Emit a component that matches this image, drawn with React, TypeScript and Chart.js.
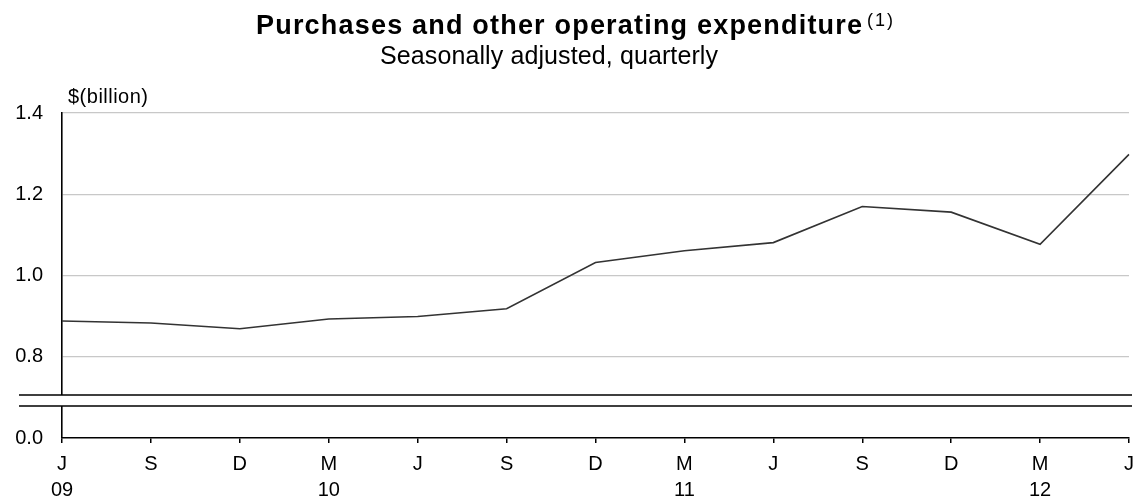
import React, { useEffect, useRef } from "react";
import { Chart, registerables } from "chart.js";

Chart.register(...registerables);

// ---- Data ----
const monthLabels = ["J", "S", "D", "M", "J", "S", "D", "M", "J", "S", "D", "M", "J"];
const yearLabels = ["09", "", "", "10", "", "", "", "11", "", "", "", "12", ""];
const purchases = [0.888, 0.883, 0.869, 0.893, 0.899, 0.918, 1.032, 1.061, 1.081, 1.17, 1.156, 1.077, 1.298];
const yTickValues = [0.6, 0.8, 1.0, 1.2, 1.4];
const yTickLabels = ["0.0", "0.8", "1.0", "1.2", "1.4"];
const axisMin = 0.6;
const axisMax = 1.4;
const breakValues = [0.706, 0.679];

const TITLE = "Purchases and other operating expenditure";
const TITLE_NOTE = "(1)";
const SUBTITLE = "Seasonally adjusted, quarterly";
const UNIT = "$(billion)";

const FONT = '"Liberation Sans", Arial, sans-serif';

function drawFitted(
  ctx: CanvasRenderingContext2D,
  text: string,
  font: string,
  left: number,
  right: number,
  baseline: number
) {
  ctx.save();
  ctx.font = font;
  ctx.fillStyle = "#000";
  ctx.textAlign = "left";
  ctx.textBaseline = "alphabetic";
  const w = ctx.measureText(text).width;
  const target = right - left;
  const anyCtx = ctx as any;
  if ("letterSpacing" in anyCtx && target > w && text.length > 1) {
    anyCtx.letterSpacing = (target - w) / (text.length - 1) + "px";
    ctx.fillText(text, left, baseline);
  } else {
    ctx.translate(left, baseline);
    ctx.scale(target / w, 1);
    ctx.fillText(text, 0, 0);
  }
  ctx.restore();
}

const decorPlugin = {
  id: "decor",
  afterDraw(chart: any) {
    const ctx: CanvasRenderingContext2D = chart.ctx;
    const y = chart.scales.y;
    const area = chart.chartArea;

    // titles
    drawFitted(ctx, TITLE, `bold 27px ${FONT}`, 256, 862, 34);
    drawFitted(ctx, TITLE_NOTE, `18px ${FONT}`, 867, 893, 26);
    drawFitted(ctx, SUBTITLE, `25px ${FONT}`, 380, 718, 64);
    drawFitted(ctx, UNIT, `20px ${FONT}`, 68, 148, 103);

    // axis break
    const yTop = Math.round(y.getPixelForValue(breakValues[0]));
    const yBot = Math.round(y.getPixelForValue(breakValues[1]));
    ctx.save();
    ctx.fillStyle = "#fff";
    ctx.fillRect(area.left - 4, yTop, area.right - area.left + 8, yBot - yTop);
    ctx.strokeStyle = "#000";
    ctx.lineWidth = 1.6;
    ctx.beginPath();
    ctx.moveTo(19, yTop);
    ctx.lineTo(1132, yTop);
    ctx.moveTo(19, yBot);
    ctx.lineTo(1132, yBot);
    ctx.stroke();
    ctx.restore();
  },
};

export default function App() {
  const ref = useRef<HTMLCanvasElement | null>(null);

  useEffect(() => {
    if (!ref.current) return;
    const labels = monthLabels.map((m, i) => [m, yearLabels[i]]);
    const chart = new Chart(ref.current, {
      type: "line",
      data: {
        labels,
        datasets: [
          {
            data: purchases,
            borderColor: "#333333",
            borderWidth: 1.6,
            pointRadius: 0,
            tension: 0,
            fill: false,
          },
        ],
      },
      options: {
        animation: false,
        responsive: false,
        layout: { padding: { top: 113, right: 9, left: 0, bottom: 0 } },
        plugins: {
          legend: { display: false },
          title: { display: false },
          tooltip: { enabled: false },
        },
        scales: {
          x: {
            type: "category",
            offset: false,
            grid: {
              display: true,
              drawOnChartArea: false,
              drawTicks: true,
              tickLength: 5,
              color: "#000",
              lineWidth: 1.5,
            },
            border: { display: true, color: "#000", width: 1.6 },
            ticks: {
              autoSkip: false,
              maxRotation: 0,
              minRotation: 0,
              padding: 8,
              color: "#000",
              font: { family: FONT, size: 20, lineHeight: 1.3 },
            },
            afterFit: (s: any) => {
              s.height = 61;
              s.paddingLeft = 0;
              s.paddingRight = 0;
            },
          },
          y: {
            type: "linear",
            min: axisMin,
            max: axisMax,
            afterBuildTicks: (s: any) => {
              s.ticks = yTickValues.map((v) => ({ value: v }));
            },
            grid: {
              drawTicks: false,
              color: (c: any) =>
                c.tick && Math.abs(c.tick.value - axisMin) < 1e-9 ? "rgba(0,0,0,0)" : "#c8c8c8",
              lineWidth: 1.3,
            },
            border: { display: true, color: "#000", width: 1.6 },
            ticks: {
              padding: 19,
              color: "#000",
              font: { family: FONT, size: 20 },
              callback: (v: any) => {
                const i = yTickValues.findIndex((t) => Math.abs(t - Number(v)) < 1e-9);
                return i >= 0 ? yTickLabels[i] : "";
              },
            },
            afterFit: (s: any) => {
              s.width = 62;
              s.paddingTop = 0;
              s.paddingBottom = 0;
            },
          },
        },
      },
      plugins: [decorPlugin],
    });
    return () => chart.destroy();
  }, []);

  return (
    <div
      style={{
        position: "absolute",
        left: 0,
        top: 0,
        width: 1138,
        height: 499,
        background: "#fff",
      }}
    >
      <canvas ref={ref} width={1138} height={499} style={{ display: "block", width: 1138, height: 499 }} />
    </div>
  );
}
